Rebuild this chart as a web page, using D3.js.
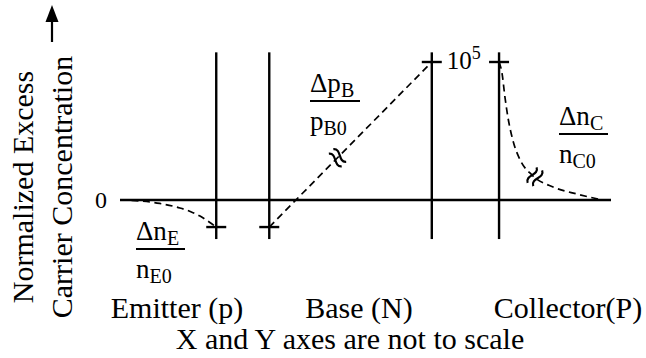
<!DOCTYPE html>
<html>
<head>
<meta charset="utf-8">
<script src="https://cdn.jsdelivr.net/npm/d3@7"></script>
<style>
  html, body { margin: 0; padding: 0; background: #fff; }
  svg { display: block; }
  text { font-family: "Liberation Serif", "Times New Roman", serif; fill: #000; }
</style>
</head>
<body>
<svg id="chart" width="646" height="358"></svg>
<script>
// Position along the device (arbitrary units, not to scale)
const junctionX = [19.6, 30.4, 63.5, 77.2];          // E-side edge, B-side edge, B-side edge, C-side edge
const regionLabels = ["Emitter (p)", "Base (N)", "Collector(P)"];

// Normalized excess minority-carrier concentration in each region
const emitterX = [0, 4.1, 8.1, 12.2, 14.3, 16.3, 18.3, 19.6];
const emitterY = [0, -700, -2500, -5800, -8300, -11600, -16300, -19600];
const baseX = [30.4, 63.5];
const baseY = [-19600, 100000];
const collectorX = [77.2, 77.8, 78.4, 79.0, 80.0, 81.5, 83.9, 88.2, 93.1, 97.4];
const collectorY = [100000, 92000, 74600, 60100, 43500, 29000, 18100, 9400, 4300, 700];

// Value ticks shown on the vertical axis
const tickValues = [0, 100000];
const tickLabels = ["0", "10^5"];

const svg = d3.select("#chart");
const x = d3.scaleLinear().domain([0, 100]).range([120, 611]);
const y = d3.scaleLinear().domain([0, 100000]).range([200, 62]);

const lineTop = 107000, lineBottom = -28300;

// Depletion-edge boundaries
svg.selectAll("line.junction").data(junctionX).join("line")
  .attr("class", "junction")
  .attr("x1", d => x(d)).attr("x2", d => x(d))
  .attr("y1", y(lineTop)).attr("y2", y(lineBottom))
  .attr("stroke", "#000").attr("stroke-width", 2.4);

// Zero line
svg.append("line")
  .attr("x1", x(0)).attr("x2", x(100))
  .attr("y1", y(0)).attr("y2", y(0))
  .attr("stroke", "#000").attr("stroke-width", 2.4);

// Small crosses marking the boundary values
const crosses = [
  [junctionX[0], emitterY[emitterY.length - 1]],
  [junctionX[1], baseY[0]],
  [junctionX[2], baseY[1]],
  [junctionX[3], collectorY[0]]
];
svg.selectAll("line.cross").data(crosses).join("line")
  .attr("class", "cross")
  .attr("x1", d => x(d[0]) - 10).attr("x2", d => x(d[0]) + 10)
  .attr("y1", d => y(d[1])).attr("y2", d => y(d[1]))
  .attr("stroke", "#000").attr("stroke-width", 2.4);

// Dashed carrier profiles
const profile = d3.line().x(d => x(d[0])).y(d => y(d[1])).curve(d3.curveMonotoneX);
const series = [
  d3.zip(emitterX, emitterY),
  d3.zip(baseX, baseY),
  d3.zip(collectorX, collectorY)
];
svg.selectAll("path.profile").data(series).join("path")
  .attr("class", "profile")
  .attr("d", profile)
  .attr("fill", "none")
  .attr("stroke", "#000")
  .attr("stroke-width", 1.7)
  .attr("stroke-dasharray", "7,4.5");

// Break marks on the base and collector profiles
function breakAt(p0, p1, t) {
  const a = [x(p0[0]), y(p0[1])], b = [x(p1[0]), y(p1[1])];
  const px = a[0] + (b[0] - a[0]) * t, py = a[1] + (b[1] - a[1]) * t;
  const ang = Math.atan2(b[1] - a[1], b[0] - a[0]) * 180 / Math.PI;
  const g = svg.append("g").attr("transform", `translate(${px},${py}) rotate(${ang})`);
  [-3.2, 3.2].forEach(u => {
    g.append("path")
      .attr("d", `M ${u} -9 C ${u + 6.5} -3.5, ${u - 6.5} 3.5, ${u} 9`)
      .attr("fill", "none").attr("stroke", "#000").attr("stroke-width", 2.2);
  });
}
breakAt(series[1][0], series[1][1], 0.42);
breakAt(series[2][6], series[2][7], 0.14);

// Vertical axis arrow
svg.append("line")
  .attr("x1", 52).attr("x2", 52).attr("y1", 42).attr("y2", 20)
  .attr("stroke", "#000").attr("stroke-width", 2.2);
svg.append("path")
  .attr("d", "M 52 5 L 45.5 22 L 58.5 22 Z")
  .attr("fill", "#000");

// Vertical axis title
const yTitle = svg.append("g").attr("transform", "translate(0,187) rotate(-90)");
yTitle.append("text").attr("x", 0).attr("y", 33).attr("text-anchor", "middle")
  .attr("font-size", 30).text("Normalized Excess");
yTitle.append("text").attr("x", 0).attr("y", 72).attr("text-anchor", "middle")
  .attr("font-size", 30).text("Carrier Concentration");

// Value labels
svg.append("text").attr("x", x(0) - 13).attr("y", y(tickValues[0]) + 8)
  .attr("text-anchor", "end").attr("font-size", 24).text(tickLabels[0]);
const peakLabel = svg.append("text")
  .attr("x", x(junctionX[2]) + 15).attr("y", y(tickValues[1]) + 7)
  .attr("font-size", 25);
const [mant, expo] = tickLabels[1].split("^");
peakLabel.append("tspan").text(mant);
peakLabel.append("tspan").attr("font-size", 18).attr("dy", -10).text(expo);

// Fraction labels for each region
function fraction(left, numBase, main, sub, denMain, denSub, barW) {
  const g = svg.append("g");
  const num = g.append("text").attr("x", left).attr("y", numBase).attr("font-size", 27);
  num.append("tspan").text(main);
  num.append("tspan").attr("font-size", 20).attr("dy", 5).text(sub);
  g.append("line")
    .attr("x1", left).attr("x2", left + barW)
    .attr("y1", numBase + 9).attr("y2", numBase + 9)
    .attr("stroke", "#000").attr("stroke-width", 2);
  const den = g.append("text").attr("x", left).attr("y", numBase + 38).attr("font-size", 27);
  den.append("tspan").text(denMain);
  den.append("tspan").attr("font-size", 20).attr("dy", 5).text(denSub);
}
fraction(136, 240, "Δn", "E", "n", "E0", 49);
fraction(310, 92, "Δp", "B", "p", "B0", 50);
fraction(559, 125, "Δn", "C", "n", "C0", 49);

// Region names and footnote
const regionCenters = [177, 359, 568];
svg.selectAll("text.region").data(regionLabels).join("text")
  .attr("class", "region")
  .attr("x", (d, i) => regionCenters[i]).attr("y", 318)
  .attr("text-anchor", "middle").attr("font-size", 30)
  .text(d => d);
svg.append("text").attr("x", 350).attr("y", 349)
  .attr("text-anchor", "middle").attr("font-size", 30)
  .text("X and Y axes are not to scale");
</script>
</body>
</html>
